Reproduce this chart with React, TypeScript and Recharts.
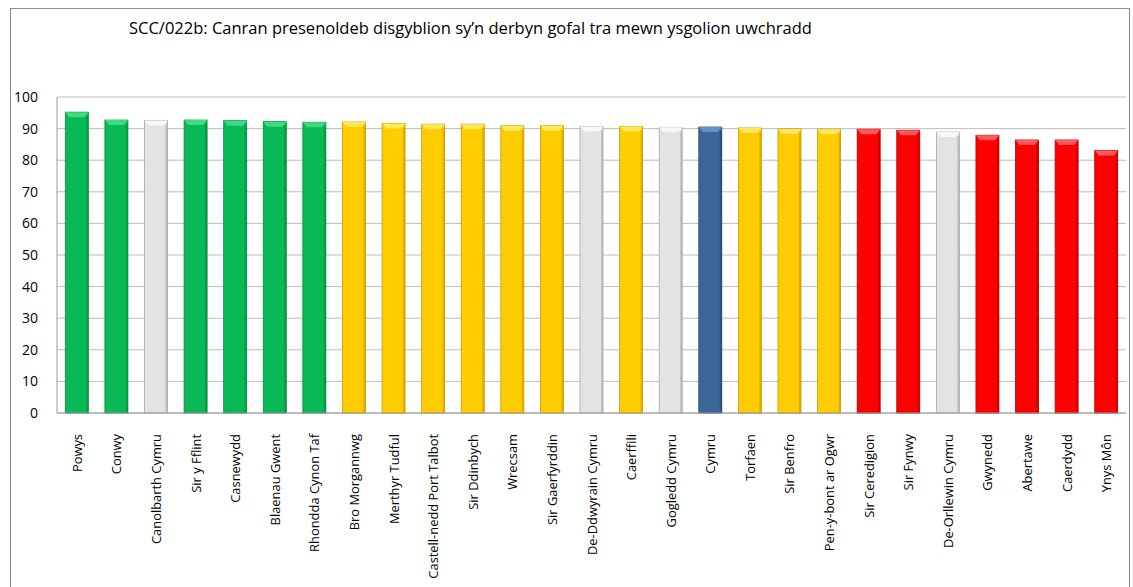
import React from 'react';
import { BarChart, Bar, XAxis, YAxis, CartesianGrid, Cell } from 'recharts';

const categories = [
  'Powys', 'Conwy', 'Canolbarth Cymru', 'Sir y Fflint', 'Casnewydd', 'Blaenau Gwent',
  'Rhondda Cynon Taf', 'Bro Morgannwg', 'Merthyr Tudful', 'Castell-nedd Port Talbot',
  'Sir Ddinbych', 'Wrecsam', 'Sir Gaerfyrddin', 'De-Ddwyrain Cymru', 'Caerffili',
  'Gogledd Cymru', 'Cymru', 'Torfaen', 'Sir Benfro', 'Pen-y-bont ar Ogwr',
  'Sir Ceredigion', 'Sir Fynwy', 'De-Orllewin Cymru', 'Gwynedd', 'Abertawe', 'Caerdydd', 'Ynys Môn',
];

const values = [
  95.2, 92.7, 92.6, 92.7, 92.5, 92.2, 92.0, 92.1, 91.6, 91.4,
  91.4, 90.9, 90.9, 90.7, 90.7, 90.4, 90.5, 90.2, 89.9, 89.8,
  89.8, 89.5, 88.9, 87.9, 86.4, 86.4, 83.1,
];

// quartile band for each bar
const bands = [
  'top', 'top', 'region', 'top', 'top', 'top', 'top', 'upper', 'upper', 'upper',
  'upper', 'upper', 'upper', 'region', 'upper', 'region', 'wales', 'upper', 'upper', 'upper',
  'bottom', 'bottom', 'region', 'bottom', 'bottom', 'bottom', 'bottom',
];

const yTicks = [0, 10, 20, 30, 40, 50, 60, 70, 80, 90, 100];

const BAND_COLORS: Record<string, { base: string; light: string; dark: string }> = {
  top: { base: '#08B955', light: '#3DDB80', dark: '#07883F' },
  upper: { base: '#FFCC00', light: '#FFE85A', dark: '#C99C00' },
  bottom: { base: '#FF0000', light: '#FF5A5A', dark: '#B80000' },
  region: { base: '#E3E3E3', light: '#F7F7F7', dark: '#A8A8A8' },
  wales: { base: '#3C6699', light: '#6A90C0', dark: '#254570' },
};

const data = categories.map((name, i) => ({ name, value: values[i], band: bands[i] }));

const FONT = '"Open Sans", "Liberation Sans", sans-serif';

const BevelBar = (props: any) => {
  const { x, y, width, height, payload } = props;
  if (!height || height <= 0) return null;
  const c = BAND_COLORS[payload.band];
  const b = 4;
  return (
    <g>
      <rect x={x} y={y} width={width} height={height} fill={c.base} stroke={c.dark} strokeWidth={0.8} />
      <polygon
        points={`${x},${y} ${x + width},${y} ${x + width - b},${y + b + 1} ${x + b},${y + b + 1}`}
        fill={c.light}
      />
      <rect x={x + width - 2} y={y + b} width={2} height={height - b} fill={c.dark} opacity={0.6} />
    </g>
  );
};

const XTick = (props: any) => {
  const { x, y, payload } = props;
  return (
    <text
      transform={`translate(${x + 5},${y + 13}) rotate(-90)`}
      textAnchor="end"
      fontSize={12.9}
      fontFamily={FONT}
      fill="#000"
    >
      {payload.value}
    </text>
  );
};

export default function App() {
  return (
    <div style={{ position: 'fixed', left: 0, top: 0, width: 1133, height: 587, background: '#fff', overflow: 'hidden' }}>
      <div
        style={{
          position: 'absolute', left: 10, top: 8, width: 1120, height: 620,
          border: '1px solid #8c8c8c', boxSizing: 'border-box',
        }}
      />
      <div
        style={{
          position: 'absolute', left: 129, top: 16, fontFamily: FONT, fontSize: 16.5,
          color: '#000', whiteSpace: 'nowrap',
        }}
      >
        SCC/022b: Canran presenoldeb disgyblion sy’n derbyn gofal tra mewn ysgolion uwchradd
      </div>
      <div style={{ position: 'absolute', left: 0, top: 0 }}>
        <BarChart
          width={1133}
          height={587}
          data={data}
          margin={{ top: 97, right: 7, left: 0, bottom: 0 }}
          barCategoryGap="21%"
        >
          <CartesianGrid vertical={false} stroke="#BDBDBD" strokeWidth={1} />
          <XAxis
            dataKey="name"
            interval={0}
            height={174}
            tick={<XTick />}
            tickLine={false}
            axisLine={{ stroke: '#9a9a9a' }}
          />
          <YAxis
            width={57}
            domain={[0, 100]}
            ticks={yTicks}
            tickLine={false}
            axisLine={{ stroke: '#9a9a9a' }}
            tickMargin={13}
            tick={{ fontSize: 14, fontFamily: FONT, fill: '#000' }}
          />
          <Bar dataKey="value" shape={<BevelBar />} isAnimationActive={false}>
            {data.map((d, i) => (
              <Cell key={`c-${i}`} fill={BAND_COLORS[d.band].base} />
            ))}
          </Bar>
        </BarChart>
      </div>
    </div>
  );
}
